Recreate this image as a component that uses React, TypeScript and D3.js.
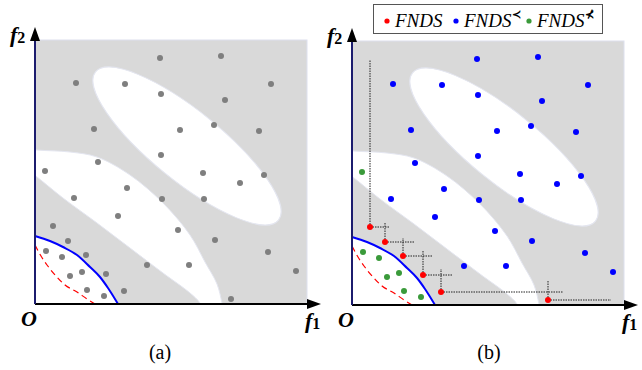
import React from "react";
import * as d3 from "d3";

// ---- data (objective space units: f1 rightwards, f2 upwards from origin O) ----
const ptF1 = [125, 186, 41, 90, 126, 236, 190, 59, 145, 179, 224, 126, 63, 168, 229, 10, 205, 92, 39, 127, 169, 83, 18, 143, 180, 33, 11, 27, 51, 233, 112, 154, 261, 35, 47, 71, 52, 69, 89, 196];
const ptF2 = [246, 248, 221, 220, 210, 220, 204, 175, 174, 179, 173, 149, 142, 131, 129, 133, 121, 116, 106, 105, 105, 88, 78, 74, 64, 63, 53, 47, 49, 52, 39, 39, 33, 28, 32, 30, 14, 8, 13, 5];
// class in panel (b): r = FNDS, b = FNDS≺, g = FNDS⊀
const ptClass = ["b", "b", "b", "b", "b", "b", "b", "b", "b", "b", "b", "b", "b", "b", "b", "g", "b", "b", "b", "b", "b", "b", "r", "b", "b", "r", "g", "g", "r", "b", "b", "b", "b", "g", "g", "r", "g", "g", "r", "r"];

// true Pareto front (blue) and reference front (red dashed)
const frontF1 = [0, 15, 28, 42, 55, 65, 73, 83];
const frontF2 = [68, 63, 57, 49, 37, 27, 16, 0];
const dashF1 = [0, 6, 12, 21, 30, 42, 52, 60];
const dashF2 = [59, 48, 39, 28, 19, 12, 5, 0];

// white regions
const ellCenter = [152, 158];
const ellRadii = [117.7, 35];
const ellAngle = 39;
const bandUpperF1 = [-15, 2, 35, 62, 95, 128, 155, 170, 182, 187, 190];
const bandUpperF2 = [156, 154, 152, 147, 129, 101, 69, 42, 20, 1, -15];
const bandLowerF1 = [-15, 2, 28, 62, 95, 128, 155, 165, 172];
const bandLowerF2 = [140, 127, 106, 81, 56, 31, 11, 1, -15];

// dominance guide lines in panel (b)
const domF1 = [18, 33, 51, 71, 89, 196];
const domF2 = [78, 63, 49, 30, 13, 5];
const domHEnd = [38, 62, 80, 100, 211, 259];
const domVEnd = [245, 82, 67, 55, 36, 24];

const legendLabels = ["FNDS", "FNDS", "FNDS"];
const legendSups = ["", "\u227A", "\u2280"];
const legendKeys = ["r", "b", "g"];

const classColor: Record<string, string> = { r: "#ff0000", b: "#0000ff", g: "#3a9a3a" };

const W = 642;
const H = 370;
const RW = 272;
const RH = 264;
const serif: React.CSSProperties = { fontFamily: "Liberation Serif" };

function Panel({ ox, oy, mode, id }: { ox: number; oy: number; mode: "a" | "b"; id: string }) {
  const x = d3.scaleLinear().domain([0, RW]).range([0, RW]);
  const y = d3.scaleLinear().domain([0, RH]).range([0, -RH]);
  const smooth = d3
    .line<[number, number]>()
    .x((d) => x(d[0]))
    .y((d) => y(d[1]))
    .curve(d3.curveMonotoneX);
  const line = d3
    .line<[number, number]>()
    .x((d) => x(d[0]))
    .y((d) => y(d[1]))
    .curve(d3.curveCatmullRom.alpha(0.5));

  const frontPts = frontF1.map((v, i) => [v, frontF2[i]] as [number, number]);
  const dashPts = dashF1.map((v, i) => [v, dashF2[i]] as [number, number]);
  const upper = bandUpperF1.map((v, i) => [v, bandUpperF2[i]] as [number, number]);
  const lower = bandLowerF1.map((v, i) => [v, bandLowerF2[i]] as [number, number]).reverse();

  const frontD = smooth(frontPts) as string;
  const regionD = `M${x(0)},${y(0)}L` + frontD.slice(1) + "Z";
  const bandD = (line(upper) as string) + "L" + (line(lower) as string).slice(1) + "Z";

  const clipId = `clip-${id}`;
  return (
    <g transform={`translate(${ox},${oy})`}>
      <defs>
        <clipPath id={clipId}>
          <rect x={x(0)} y={y(RH)} width={x(RW) - x(0)} height={y(0) - y(RH)} />
        </clipPath>
      </defs>
      <rect x={x(0)} y={y(RH)} width={x(RW) - x(0)} height={y(0) - y(RH)} fill="#d9d9d9" stroke="#dde0ee" strokeWidth={1} />
      <g clipPath={`url(#${clipId})`}>
        <ellipse
          transform={`translate(${x(ellCenter[0])},${y(ellCenter[1])}) rotate(${ellAngle})`}
          rx={x(ellRadii[0]) - x(0)}
          ry={x(ellRadii[1]) - x(0)}
          fill="#ffffff"
          stroke="#e4e6f0"
          strokeWidth={1}
        />
        <path d={bandD} fill="#ffffff" stroke="#e4e6f0" strokeWidth={1} />
        <path d={regionD} fill="#ffffff" />
      </g>
      <path d={smooth(dashPts) as string} fill="none" stroke="#ff0000" strokeWidth={1.2} strokeDasharray="6,4" />
      <path d={frontD} fill="none" stroke="#0000ff" strokeWidth={2} />
      {mode === "b" &&
        domF1.map((v, i) => (
          <g key={`dom${i}`} stroke="#222" strokeWidth={1} strokeDasharray="1.5,1">
            <line x1={x(v)} y1={y(domF2[i])} x2={x(domHEnd[i])} y2={y(domF2[i])} />
            <line x1={x(v)} y1={y(domF2[i])} x2={x(v)} y2={y(domVEnd[i])} />
          </g>
        ))}
      {ptF1.map((v, i) => (
        <circle
          key={`p${i}`}
          cx={x(v)}
          cy={y(ptF2[i])}
          r={3}
          fill={mode === "a" ? "#7f7f7f" : classColor[ptClass[i]]}
        />
      ))}
      {/* axes */}
      <line x1={x(0)} y1={y(0)} x2={x(RW) + 2} y2={y(0)} stroke="#000" strokeWidth={2} />
      <line x1={x(0)} y1={y(0)} x2={x(0)} y2={y(RH) - 1} stroke="#1c1c6e" strokeWidth={2} />
      <polygon points={`${x(0)},${y(RH) - 13} ${x(0) - 5},${y(RH) + 1} ${x(0) + 5},${y(RH) + 1}`} fill="#000" />
      <polygon points={`${x(RW) + 14},${y(0)} ${x(RW)},${y(0) - 5} ${x(RW)},${y(0) + 5}`} fill="#000" />
      <text x={-14} y={22} style={serif} fontSize={22} fontWeight="bold" fontStyle="italic">O</text>
      <text x={-25} y={y(RH) + 2} style={serif} fontSize={22} fontWeight="bold" fontStyle="italic">
        f<tspan fontStyle="normal" fontSize={16} dy={1}>2</tspan>
      </text>
      <text x={x(RW) - 2} y={24} style={serif} fontSize={22} fontWeight="bold" fontStyle="italic">
        f<tspan fontStyle="normal" fontSize={16} dy={1}>1</tspan>
      </text>
    </g>
  );
}

export default function App() {
  const legendDotX = [387, 456, 529];
  return (
    <svg width={W} height={H} viewBox={`0 0 ${W} ${H}`} style={{ display: "block", position: "absolute", left: 0, top: 0, background: "#fff" }}>
      <Panel ox={35} oy={304} mode="a" id="a" />
      <Panel ox={352} oy={305} mode="b" id="b" />
      <text x={160} y={359} textAnchor="middle" style={serif} fontSize={20}>(a)</text>
      <text x={489} y={359} textAnchor="middle" style={serif} fontSize={20}>(b)</text>
      {/* legend */}
      <rect x={373.5} y={4.5} width={229} height={29} fill="#fff" stroke="#555" strokeWidth={1} />
      {legendKeys.map((k, i) => (
        <g key={k}>
          <circle cx={legendDotX[i]} cy={21} r={2.6} fill={classColor[k]} />
          <text x={legendDotX[i] + 8} y={27} style={serif} fontSize={19} fontStyle="italic">
            {legendLabels[i]}
            {legendSups[i] && (
              <tspan dy={-9} fontSize={11} fontStyle="normal" fontWeight="bold">{legendSups[i]}</tspan>
            )}
          </text>
        </g>
      ))}
    </svg>
  );
}
